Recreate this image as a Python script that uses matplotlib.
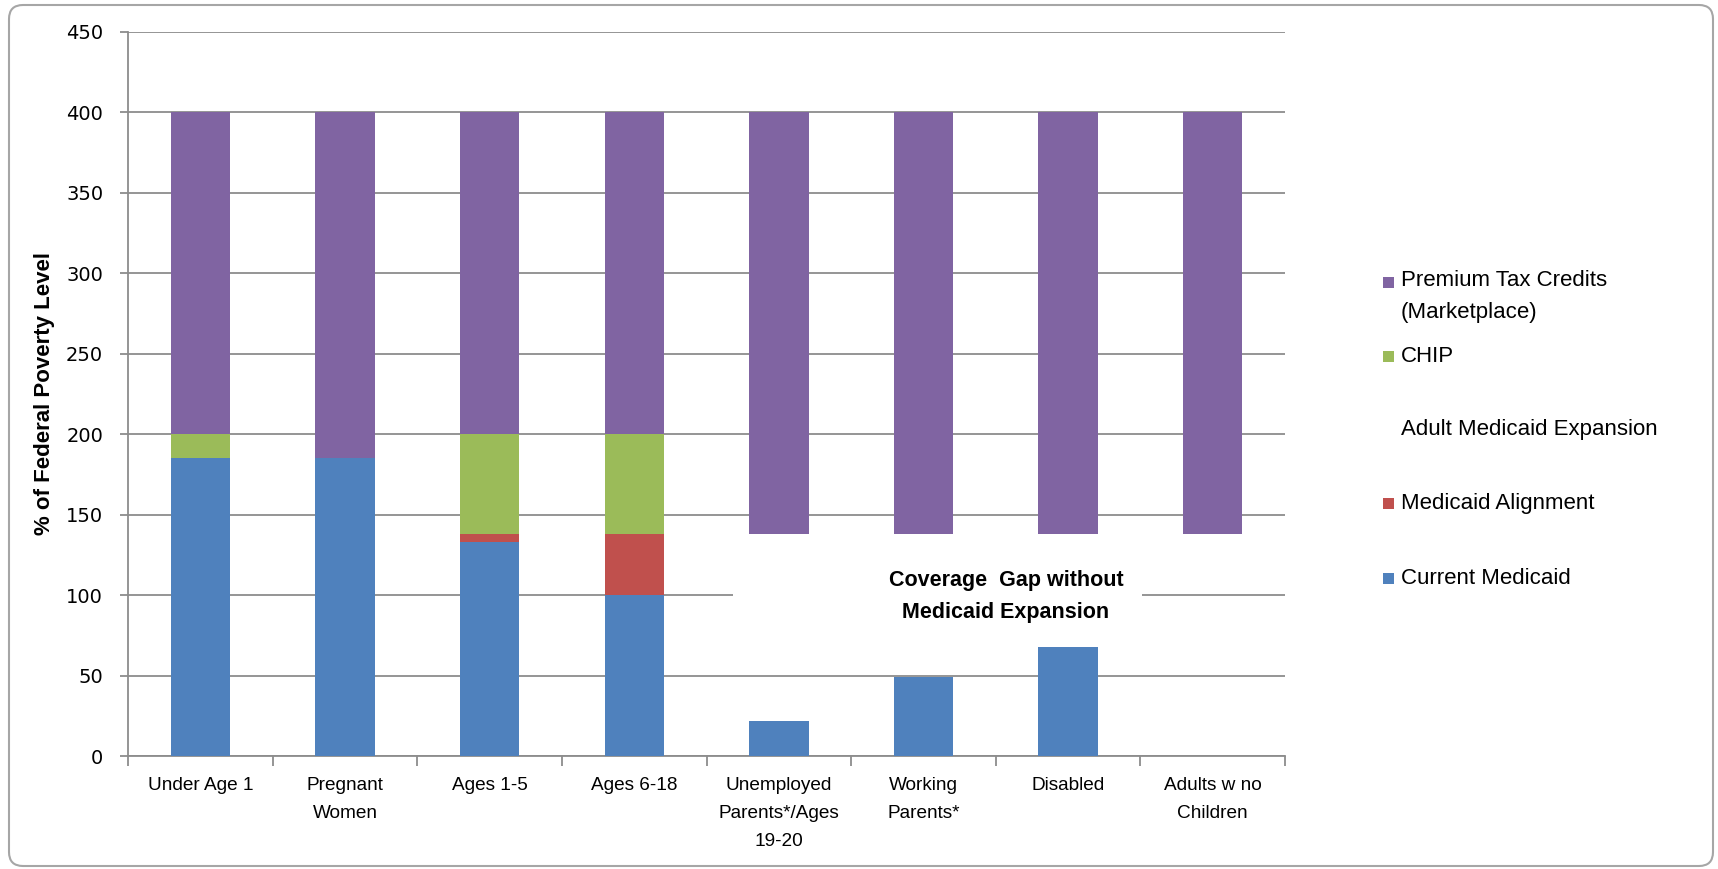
import numpy as np
import matplotlib
matplotlib.use("Agg")
import matplotlib.pyplot as plt
from matplotlib.patches import Rectangle, FancyBboxPatch

plt.rcParams["font.family"] = ["Liberation Sans", "DejaVu Sans"]

# data (% of federal poverty level, stacked segments)
categories = ["Under Age 1", "Pregnant\nWomen", "Ages 1-5", "Ages 6-18",
              "Unemployed\nParents*/Ages\n19-20", "Working\nParents*",
              "Disabled", "Adults w no\nChildren"]
current_medicaid = [185, 185, 133, 100, 22, 49, 68, 0]
medicaid_alignment = [0, 0, 5, 38, 0, 0, 0, 0]
adult_expansion = [0, 0, 0, 0, 116, 89, 70, 138]
chip = [15, 0, 62, 62, 0, 0, 0, 0]
tax_credits = [200, 215, 200, 200, 262, 262, 262, 262]

series_names = ["Current Medicaid", "Medicaid Alignment", "Adult Medicaid Expansion",
                "CHIP", "Premium Tax Credits\n(Marketplace)"]
series_values = [current_medicaid, medicaid_alignment, adult_expansion, chip, tax_credits]
series_colors = ["#4F81BD", "#C0504D", None, "#9BBB59", "#8064A2"]

grid_col = "#8C8C8C"

fig = plt.figure(figsize=(17.18, 8.69), dpi=100)
ax = fig.add_axes([0.0746, 0.130, 0.748 - 0.0746, 0.9637 - 0.130])

x = np.arange(len(categories))
bottom = np.zeros(len(categories))
for name, vals, col in zip(series_names, series_values, series_colors):
    if col is None:
        # coverage gap: no fill
        ax.bar(x, vals, 0.41, bottom=bottom, fill=False, linewidth=0, zorder=3)
    else:
        ax.bar(x, vals, 0.41, bottom=bottom, color=col, zorder=3)
    bottom += np.array(vals)

ax.set_xlim(-0.5, len(categories) - 0.5)
ax.set_ylim(0, 450)
ax.set_yticks(np.arange(0, 451, 50))
ax.set_axisbelow(True)
ax.yaxis.grid(True, color=grid_col, lw=1.3)

for s in ["top", "right"]:
    ax.spines[s].set_visible(False)
for s in ["left", "bottom"]:
    ax.spines[s].set_color(grid_col)
    ax.spines[s].set_linewidth(1.3)

ax.set_xticks(x)
ax.set_xticklabels(categories, fontsize=13.7, linespacing=1.85, va="top")
ax.set_xticks(np.arange(-0.5, len(categories), 1), minor=True)
ax.tick_params(axis="x", which="major", length=0, pad=15)
ax.tick_params(axis="x", which="minor", length=7, color=grid_col, width=1.3)
ax.tick_params(axis="y", length=6, color=grid_col, width=1.3, pad=12)
for lab in ax.get_yticklabels():
    lab.set_fontfamily("DejaVu Sans")
    lab.set_fontsize(14)

ax.set_ylabel("% of Federal Poverty Level", fontsize=16, fontweight="bold")
ax.yaxis.set_label_coords(-0.063, 0.5)

# text box over the gap
ax.add_patch(Rectangle((3.68, 75), 2.83, 55, facecolor="white", edgecolor="none", zorder=2))
ax.text(5.57, 99, "Coverage  Gap without\nMedicaid Expansion", ha="center", va="center",
        fontsize=15.5, fontweight="bold", linespacing=1.72, zorder=5)

# legend
W, H = 1718, 869
leg_y = [578, 503, 430, 356, 282]
for name, col, yy in zip(series_names, series_colors, leg_y):
    if col is not None:
        fig.patches.append(Rectangle((1383, H - yy - 5.5), 11, 11, transform=None,
                                     facecolor=col, edgecolor="none"))
    if "\n" in name:
        fig.text(1401 / W, (H - yy + 12) / H, name, ha="left", va="top",
                 fontsize=16, linespacing=1.7)
    else:
        fig.text(1401 / W, (H - yy) / H, name, ha="left", va="center", fontsize=16)

# chart border
fig.patches.append(FancyBboxPatch((9, 3), 1704, 861, boxstyle="round,pad=0,rounding_size=14",
                                  transform=None, fill=False, edgecolor="#A6A6A6", lw=1.5))

fig.savefig("out.png", dpi=100)
